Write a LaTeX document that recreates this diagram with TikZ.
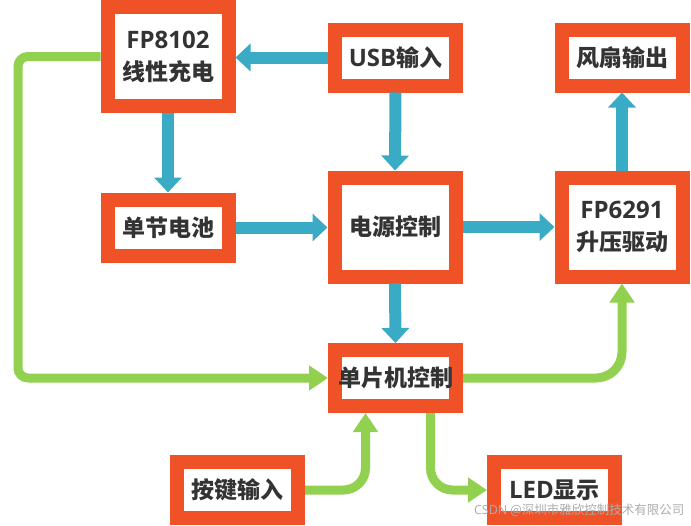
\documentclass[tikz,border=0pt]{standalone}
\usepackage{fontspec}
\setmainfont{Noto Sans CJK SC}
\newfontfamily\latf{Open Sans}
\usetikzlibrary{arrows.meta,shadows}
\definecolor{boxorange}{HTML}{F05228}
\definecolor{flowblue}{HTML}{3AABC5}
\definecolor{ctrlgreen}{HTML}{92D050}
\definecolor{txtgray}{HTML}{333333}
\begin{document}
\begin{tikzpicture}
		[x=1pt,y=-1pt,%
		  blk/.style={shape=rectangle,draw=boxorange,line width=14pt,fill=white,
		    text=txtgray,align=center,inner sep=0pt,
		    font=\fontsize{23}{32}\selectfont\bfseries,
		    drop shadow={opacity=0.35,shadow xshift=1.5pt,shadow yshift=-1.5pt},
		    minimum width=121pt},
		  tall/.style={blk,minimum height=99pt},
		  flat/.style={blk,minimum height=56pt},
		  power/.style={line width=12pt,draw=flowblue,-{Triangle[width=27pt,length=15pt]}},
		  signal/.style={line width=9pt,draw=ctrlgreen,-{Triangle[width=24pt,length=19pt]}}]
		\useasboundingbox (0,0) rectangle (691,525);
		\node[tall] (charge) at (168,56.5) {{\latf\bfseries\fontsize{24}{32}\selectfont FP8102}\\线性充电};
		\node[flat] (usb) at (395.5,57.5) {{\latf\bfseries\fontsize{24}{32}\selectfont USB}输入};
		\node[flat] (fan) at (622,57.5) {风扇输出};
		\node[flat] (batt) at (168,227.5) {单节电池};
		\node[tall] (supply) at (395,227) {电源控制};
		\node[tall] (boost) at (622,227) {{\latf\bfseries\fontsize{24}{32}\selectfont FP6291}\\升压驱动};
		\node[flat] (mcu) at (395.5,378) {单片机控制};
		\node[flat] (key) at (237.5,490) {按键输入};
		\node[flat] (led) at (554.5,490) {{\latf\bfseries\fontsize{24}{32}\selectfont LED}显示};
		\node[anchor=east,text=black!32,font=\fontsize{12.5}{13}\selectfont] (wm)
		  at (688,510) {{\latf CSDN} @深圳市雅欣控制技术有限公司};
		\draw[power] (usb.west) -- (usb.west -| charge.east);
		\draw[power] (usb.south) -- (supply.north);
		\draw[power] (charge.south) -- (batt.north);
		\draw[power] (batt.east) -- (batt.east -| supply.west);
		\draw[power] (supply.east) -- (supply.east -| boost.west);
		\draw[power] (boost.north) -- (fan.south);
		\draw[power] (supply.south) -- (mcu.north);
		\draw[signal,rounded corners=10pt] (charge.west) -- (18,56.5) |- (mcu.west);
		\draw[signal,rounded corners=26pt] (mcu.east) -| (boost.south);
		\draw[signal,rounded corners=22pt] (key.east) -| ([xshift=-30pt]mcu.south);
		\draw[signal,rounded corners=22pt] ([xshift=35pt]mcu.south) |- (led.west);
	\end{tikzpicture}
\end{document}
